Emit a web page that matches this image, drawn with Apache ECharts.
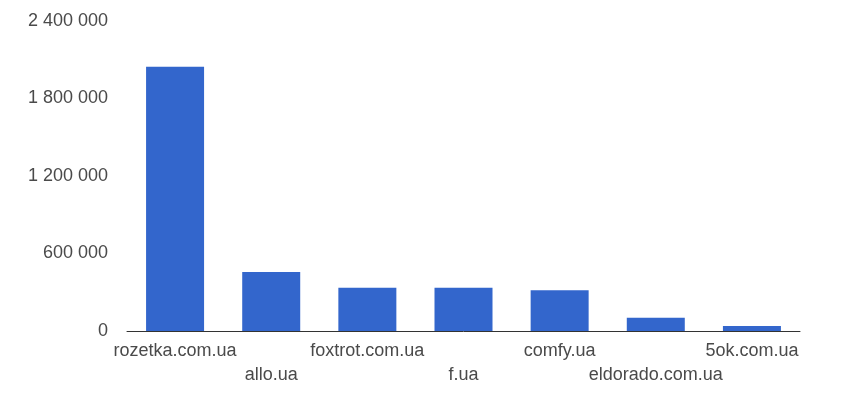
<!DOCTYPE html>
<html>
<head>
<meta charset="utf-8">
<script src="https://cdn.jsdelivr.net/npm/echarts@6/dist/echarts.min.js"></script>
<style>
  html, body { margin: 0; padding: 0; background: #fff; }
  #chart { width: 855px; height: 419px; }
</style>
</head>
<body>
<div id="chart"></div>
<script>
// shops and their values
var shops = ["rozetka.com.ua", "allo.ua", "foxtrot.com.ua", "f.ua", "comfy.ua", "eldorado.com.ua", "5ok.com.ua"];
var visits = [2045000, 457000, 335000, 335000, 315000, 103000, 39000];
var yTicks = [0, 600000, 1200000, 1800000, 2400000];

function spaced(v) {
    return String(v).replace(/\B(?=(\d{3})+(?!\d))/g, " ");
}

var chart = echarts.init(document.getElementById("chart"));
chart.setOption({
    animation: false,
    grid: { left: 127, right: 55, top: 21, bottom: 88 },
    xAxis: {
        type: "category",
        data: shops,
        axisLine: { lineStyle: { color: "#333", width: 1 } },
        axisTick: { show: false },
        axisLabel: {
            interval: 0,
            margin: 8,
            color: "#4a4a4a",
            fontFamily: "Liberation Sans, Arial, sans-serif",
            fontSize: 18,
            lineHeight: 24,
            formatter: function (v, i) {
                return i % 2 ? "\n" + v : v;
            }
        }
    },
    yAxis: {
        type: "value",
        min: yTicks[0],
        max: yTicks[yTicks.length - 1],
        interval: yTicks[1] - yTicks[0],
        splitLine: { show: false },
        axisLine: { show: false },
        axisTick: { show: false },
        axisLabel: {
            margin: 19,
            color: "#4a4a4a",
            fontFamily: "Liberation Sans, Arial, sans-serif",
            fontSize: 18,
            formatter: spaced
        }
    },
    series: [{
        type: "bar",
        data: visits,
        barWidth: 58,
        itemStyle: { color: "#3366cc" }
    }]
});
</script>
</body>
</html>
